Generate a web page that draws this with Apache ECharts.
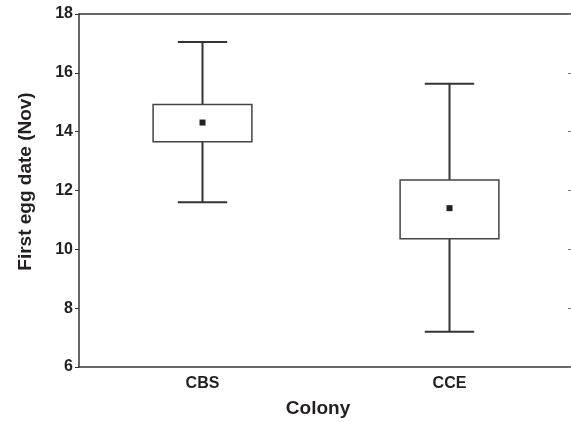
<!DOCTYPE html>
<html>
<head>
<meta charset="utf-8">
<script src="https://cdn.jsdelivr.net/npm/echarts@6/dist/echarts.min.js"></script>
<style>
html,body{margin:0;padding:0;background:#fff;}
#chart{width:571px;height:422px;}
</style>
</head>
<body>
<div id="chart"></div>
<script>
var categories = ['CBS', 'CCE'];
var whiskerLow = [11.6, 7.2];
var boxLow = [13.66, 10.36];
var means = [14.31, 11.40];
var boxHigh = [14.92, 12.36];
var whiskerHigh = [17.05, 15.63];
var yTicks = [6, 8, 10, 12, 14, 16, 18];

var textColor = '#231f20';
var lineColor = '#333333';
var fontFamily = '"Liberation Sans", Arial, sans-serif';

var seriesData = categories.map(function (c, i) {
  return [i, whiskerLow[i], boxLow[i], means[i], boxHigh[i], whiskerHigh[i]];
});

var chart = echarts.init(document.getElementById('chart'), null, {renderer: 'canvas'});
chart.setOption({
  animation: false,
  backgroundColor: '#ffffff',
  grid: {left: 79, top: 14, width: 494, height: 353, containLabel: false, outerBoundsMode: 'none'},
  xAxis: [{
    type: 'category',
    data: categories,
    position: 'bottom',
    name: 'Colony',
    nameLocation: 'middle',
    nameGap: 32,
    nameTextStyle: {color: textColor, fontSize: 19, fontWeight: 'bold', fontFamily: fontFamily, padding: [0, 16, 0, 0]},
    axisLine: {lineStyle: {color: lineColor, width: 1.5}},
    axisTick: {inside: true, length: 3, alignWithLabel: true, lineStyle: {color: lineColor}},
    axisLabel: {color: textColor, fontSize: 16, fontWeight: 'bold', fontFamily: fontFamily, margin: 9},
    splitLine: {show: false}
  }, {
    type: 'category',
    data: categories,
    position: 'top',
    axisLine: {lineStyle: {color: lineColor, width: 1.5}},
    axisTick: {inside: true, length: 3, alignWithLabel: true, lineStyle: {color: lineColor}},
    axisLabel: {show: false},
    splitLine: {show: false}
  }],
  yAxis: [{
    type: 'value',
    min: 6,
    max: 18,
    interval: 2,
    position: 'left',
    name: 'First egg date (Nov)',
    nameLocation: 'middle',
    nameGap: 44,
    nameTextStyle: {color: textColor, fontSize: 19, fontWeight: 'bold', fontFamily: fontFamily, padding: [0, 0, 0, 18]},
    axisLine: {show: true, lineStyle: {color: lineColor, width: 1.5}},
    axisTick: {show: true, inside: false, length: 4, lineStyle: {color: lineColor}},
    axisLabel: {color: textColor, fontSize: 16, fontWeight: 'bold', fontFamily: fontFamily, margin: 6,
      formatter: function (v) { return yTicks.indexOf(v) >= 0 ? String(v) : ''; }},
    splitLine: {show: false}
  }, {
    type: 'value',
    min: 6,
    max: 18,
    interval: 2,
    position: 'right',
    axisLine: {show: true, lineStyle: {color: lineColor, width: 1.5}},
    axisTick: {show: true, inside: true, length: 5, lineStyle: {color: '#777'}},
    axisLabel: {show: false},
    splitLine: {show: false}
  }],
  series: [{
    type: 'custom',
    xAxisIndex: 0,
    yAxisIndex: 0,
    data: seriesData,
    renderItem: function (params, api) {
      var idx = api.value(0);
      var band = api.size([1, 0])[0];
      var boxW = band * 0.4;
      var capW = band * 0.2;
      var pWL = api.coord([idx, api.value(1)]);
      var pBL = api.coord([idx, api.value(2)]);
      var pM = api.coord([idx, api.value(3)]);
      var pBH = api.coord([idx, api.value(4)]);
      var pWH = api.coord([idx, api.value(5)]);
      var cx = pM[0];
      var ls = {stroke: lineColor, lineWidth: 2};
      return {
        type: 'group',
        children: [
          {type: 'line', shape: {x1: cx, y1: pWH[1], x2: cx, y2: pBH[1]}, style: ls},
          {type: 'line', shape: {x1: cx, y1: pBL[1], x2: cx, y2: pWL[1]}, style: ls},
          {type: 'line', shape: {x1: cx - capW / 2, y1: pWH[1], x2: cx + capW / 2, y2: pWH[1]}, style: ls},
          {type: 'line', shape: {x1: cx - capW / 2, y1: pWL[1], x2: cx + capW / 2, y2: pWL[1]}, style: ls},
          {type: 'rect', shape: {x: cx - boxW / 2, y: pBH[1], width: boxW, height: pBL[1] - pBH[1]},
            style: {fill: '#ffffff', stroke: '#444444', lineWidth: 1.5}},
          {type: 'rect', shape: {x: cx - 3, y: pM[1] - 3, width: 6, height: 6},
            style: {fill: '#231f20'}}
        ]
      };
    }
  }]
});
</script>
</body>
</html>
